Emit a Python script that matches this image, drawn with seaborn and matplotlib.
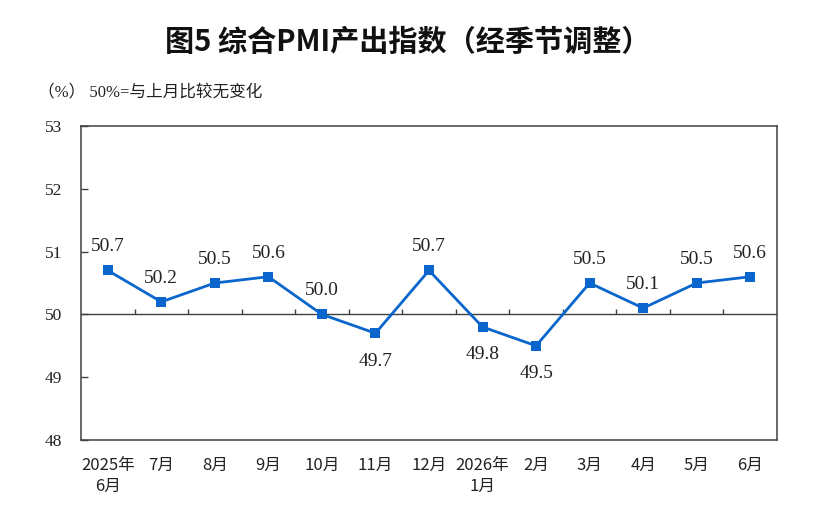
import numpy as np
import matplotlib
matplotlib.use("Agg")
import matplotlib.pyplot as plt
import seaborn as sns

# data
months = ["2025年\n6月", "7月", "8月", "9月", "10月", "11月", "12月",
          "2026年\n1月", "2月", "3月", "4月", "5月", "6月"]
pmi = [50.7, 50.2, 50.5, 50.6, 50.0, 49.7, 50.7, 49.8, 49.5, 50.5, 50.1, 50.5, 50.6]
y_ticks = [48, 49, 50, 51, 52, 53]

title = "图5 综合PMI产出指数（经季节调整）"
unit_note = "（%） 50%=与上月比较无变化"

LINE = "#0a66cc"
AXC = "#404040"
SERIF = ["Liberation Serif", "Noto Sans CJK SC"]
SANS = ["Noto Sans CJK SC", "DejaVu Sans"]

sns.set_theme(style="white")
plt.rcParams["font.family"] = SANS
plt.rcParams["axes.unicode_minus"] = False

fig, ax = plt.subplots(figsize=(8.34, 5.25), dpi=100)
fig.subplots_adjust(left=81/834, right=777/834, top=1-126/525, bottom=1-440/525)

x = np.arange(len(months))
sns.lineplot(x=x, y=pmi, ax=ax, color=LINE, linewidth=2.0, marker="s",
             markersize=6.5, markeredgewidth=0, markerfacecolor=LINE)

# value labels: above for >=50, below otherwise
for i, v in enumerate(pmi):
    dy = 17 if v >= 50 else -20
    ax.annotate(f"{v:.1f}", (i, v), xytext=(0, dy), textcoords="offset points",
                ha="center", va="center", fontsize=14, family=SERIF, color="#222222")

# the 50 line with small ticks between months
ax.axhline(50, color=AXC, linewidth=1.0, zorder=1)
ax.vlines(x[:-1] + 0.5, 50, 50.08, color=AXC, linewidth=1.0, zorder=1)

ax.set_xlim(-0.5, len(months) - 0.5)
ax.set_ylim(y_ticks[0], y_ticks[-1])
ax.set_yticks(y_ticks)
ax.set_yticklabels([str(t) for t in y_ticks], family=SERIF, fontsize=12.5, color="#222222")
ax.set_xticks(x)
ax.set_xticklabels(months, fontsize=12, color="#222222", linespacing=1.35)
ax.tick_params(axis="x", length=0, pad=12)
ax.tick_params(axis="y", direction="in", length=5, width=1.0, color=AXC, pad=13.5, left=True)
ax.set_xlabel("")
ax.set_ylabel("")

for sp in ax.spines.values():
    sp.set_color(AXC)
    sp.set_linewidth(1.1)
    sp.set_visible(True)

fig.text(408/834, 1-42/525, title, ha="center", va="center", fontsize=21,
         fontweight="bold", family=SANS, color="#111111")
fig.text(38/834, 1-93/525, unit_note, ha="left", va="center", fontsize=12,
         family=SERIF, color="#222222")

fig.savefig("out.png", dpi=100)
